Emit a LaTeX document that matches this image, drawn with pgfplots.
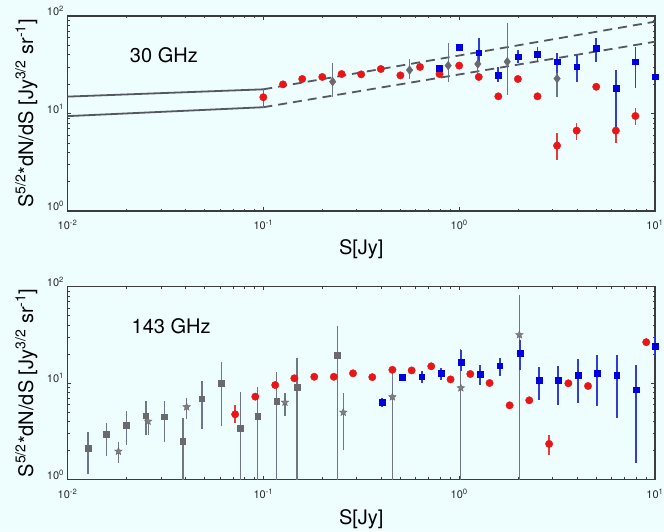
\documentclass[border=0pt]{standalone}
\usepackage{pgfplots}
\usepackage{pgfplotstable}
\pgfplotsset{compat=1.18}
\usetikzlibrary{plotmarks}
\usepackage{fontspec}
\setmainfont{TeX Gyre Heros}
\definecolor{bgc}{RGB}{238,253,254}
\definecolor{redc}{RGB}{232,22,22}
\definecolor{redbar}{RGB}{225,60,60}
\definecolor{bluec}{RGB}{0,0,225}
\definecolor{bluebar}{RGB}{50,60,205}
\definecolor{greyc}{RGB}{105,105,110}
\definecolor{greybar}{RGB}{110,118,135}
\definecolor{linec}{RGB}{85,88,96}
\definecolor{axc}{RGB}{60,60,60}

\pgfdeclareplotmark{fstar}{%
  \pgfpathmoveto{\pgfpointpolar{90}{\pgfplotmarksize}}%
  \pgfpathlineto{\pgfpointpolar{126}{0.42\pgfplotmarksize}}%
  \pgfpathlineto{\pgfpointpolar{162}{\pgfplotmarksize}}%
  \pgfpathlineto{\pgfpointpolar{198}{0.42\pgfplotmarksize}}%
  \pgfpathlineto{\pgfpointpolar{234}{\pgfplotmarksize}}%
  \pgfpathlineto{\pgfpointpolar{270}{0.42\pgfplotmarksize}}%
  \pgfpathlineto{\pgfpointpolar{306}{\pgfplotmarksize}}%
  \pgfpathlineto{\pgfpointpolar{342}{0.42\pgfplotmarksize}}%
  \pgfpathlineto{\pgfpointpolar{18}{\pgfplotmarksize}}%
  \pgfpathlineto{\pgfpointpolar{54}{0.42\pgfplotmarksize}}%
  \pgfpathclose
  \pgfusepathqfillstroke}

% ---------------- 30 GHz ----------------
\pgfplotstableread{
x y lo hi
0.100 14.7 11.6 17.7
0.126 19.9 19.9 19.9
0.158 22.6 22.6 22.6
0.200 23.7 23.7 23.7
0.251 25.4 25.4 25.4
0.316 25.2 25.2 25.2
0.398 28.6 28.6 28.6
0.501 24.6 24.6 24.6
0.631 30.0 30.0 30.0
0.794 25.4 25.4 25.4
1.000 31.0 31.0 31.0
1.259 23.7 23.7 23.7
1.585 15.0 15.0 15.0
1.995 22.6 22.6 22.6
2.512 15.0 15.0 15.0
3.162 4.68 3.33 6.26
3.981 6.67 5.35 7.93
5.012 18.8 18.8 18.8
6.310 6.67 4.94 8.58
7.943 9.43 7.62 11.3
}\redtop
\pgfplotstableread{
x y lo hi
0.794 29.1 27.0 31.0
1.000 48.1 48.1 48.1
1.259 42.1 32.7 59.0
1.585 24.8 21.2 30.3
1.995 38.3 32.7 44.8
2.512 40.8 34.0 48.5
3.162 34.0 25.9 41.4
3.981 30.2 21.2 39.8
5.012 46.6 34.0 59.0
6.310 18.1 6.77 28.0
7.943 34.0 18.1 48.5
10.00 23.9 23.9 23.9
}\bluetop
\pgfplotstableread{
x y lo hi
0.226 21.2 14.9 32.7
0.558 27.9 22.4 35.9
0.879 31.0 21.2 53.3
1.245 32.2 24.8 43.1
1.760 34.0 15.5 85.5
3.162 22.8 14.9 41.4
}\greytop

% ---------------- 143 GHz ----------------
\pgfplotstableread{
x y lo hi
0.0718 4.74 3.86 5.97
0.0910 7.22 7.22 7.22
0.115 9.53 9.53 9.53
0.144 11.2 11.2 11.2
0.182 11.6 11.6 11.6
0.229 11.6 11.6 11.6
0.287 12.6 12.6 12.6
0.360 11.5 11.5 11.5
0.456 13.7 13.7 13.7
0.572 13.5 13.5 13.5
0.720 14.9 14.9 14.9
0.904 10.9 10.9 10.9
1.140 12.4 12.4 12.4
1.430 10.0 10.0 10.0
1.810 5.87 5.87 5.87
2.280 6.62 6.62 6.62
2.880 2.34 1.81 2.92
3.610 9.93 9.93 9.93
4.550 9.31 9.31 9.31
9.020 26.5 26.5 26.5
}\redbot
\pgfplotstableread{
x y lo hi
0.405 6.31 5.65 7.00
0.510 11.5 11.5 11.5
0.643 11.6 10.0 13.2
0.807 12.6 10.8 14.3
1.020 16.4 13.2 22.1
1.280 12.4 9.61 15.5
1.610 15.1 11.7 18.1
2.040 20.4 13.7 28.1
2.560 10.7 6.62 14.6
3.210 10.7 5.97 15.1
4.040 12.1 6.21 17.7
5.070 12.7 5.74 19.6
6.380 12.0 4.34 19.6
8.030 8.53 1.49 15.5
10.00 24.1 18.9 30.4
}\bluebot
\pgfplotstableread{
x y lo hi
0.0127 2.13 1.15 3.09
0.0158 2.92 1.74 3.86
0.0200 3.68 2.27 5.09
0.0251 4.59 2.92 6.46
0.0312 4.48 2.43 6.56
0.0388 2.49 0.90 4.34
0.0485 6.88 3.34 10.4
0.0610 10.0 3.62 16.4
0.0763 3.40 0.90 8.00
0.0936 4.52 0.90 9.09
0.117 6.46 0.90 12.9
0.149 9.09 0.90 18.1
0.239 19.6 0.90 38.6
}\greysqbot
\pgfplotstableread{
x y lo hi
0.0182 1.96 1.49 2.43
0.0258 4.01 2.92 4.89
0.0406 5.65 4.24 7.00
0.129 6.31 4.52 7.88
0.256 4.97 2.04 7.88
0.456 7.17 0.90 13.7
1.020 8.88 0.90 22.5
2.030 31.6 0.90 82.0
}\greystbot

\pgfplotsset{
  every axis/.append style={
    axis line style={axc, line width=1.1pt},
    every tick/.style={axc, line width=0.7pt},
    major tick length=4pt, minor tick length=2.2pt,
    tick label style={font=\fontsize{11}{12}\selectfont, text=black!85},
    xticklabel style={yshift=-6pt},
    yticklabel style={yshift=5pt},
    label style={font=\fontsize{20}{24}\selectfont},
  },
}

\begin{document}
\begin{tikzpicture}
\fill[bgc] (0pt,0pt) rectangle (664pt,531pt);
\path[use as bounding box] (0pt,0pt) rectangle (664pt,531pt);

% ---------- top panel ----------
\begin{axis}[xmode=log, ymode=log,
    scale only axis, width=587.5pt, height=195pt,
    at={(67.5pt,320pt)}, anchor=south west,
    xmin=0.01, xmax=10, ymin=1, ymax=100,
    xtick={0.01,0.1,1,10},
    xticklabels={10\textsuperscript{-2},10\textsuperscript{-1},10\textsuperscript{0},10\textsuperscript{1}},
    ytick={1,10,100},
    yticklabels={10\textsuperscript{0},10\textsuperscript{1},10\textsuperscript{2}},
    xlabel={S[Jy]},
    ylabel={S\textsuperscript{5/2}*dN/dS [Jy\textsuperscript{3/2} sr\textsuperscript{-1}]},
    ylabel style={at={(axis description cs:-0.0587,0.5)}, anchor=base},
    xlabel style={at={(axis description cs:0.5,0)}, anchor=base, yshift=-43pt}]
\addplot[draw=linec, line width=1.8pt] coordinates {(0.01,14.9) (0.1,17.7)};
\addplot[draw=linec, line width=1.8pt] coordinates {(0.01,9.4) (0.1,11.6)};
\addplot[draw=linec, line width=1.8pt, dash pattern=on 9pt off 6pt] coordinates {(0.1,17.7) (10,87.5)};
\addplot[draw=linec, line width=1.8pt, dash pattern=on 9pt off 6pt] coordinates {(0.1,11.6) (10,54.5)};
\addplot[only marks, mark=diamond*, mark size=4.3pt, color=greyc,
  error bars/y dir=both, error bars/y explicit, error bars/error mark=none,
  error bars/error bar style={line width=1.3pt, color=greybar}]
  table[x=x, y=y, y error plus expr=\thisrow{hi}-\thisrow{y}, y error minus expr=\thisrow{y}-\thisrow{lo}] {\greytop};
\addplot[only marks, mark=*, mark size=3.7pt, color=redc,
  error bars/y dir=both, error bars/y explicit, error bars/error mark=none,
  error bars/error bar style={line width=1.6pt, color=redbar}]
  table[x=x, y=y, y error plus expr=\thisrow{hi}-\thisrow{y}, y error minus expr=\thisrow{y}-\thisrow{lo}] {\redtop};
\addplot[only marks, mark=square*, mark size=2.9pt, color=bluec,
  error bars/y dir=both, error bars/y explicit, error bars/error mark=none,
  error bars/error bar style={line width=1.8pt, color=bluebar}]
  table[x=x, y=y, y error plus expr=\thisrow{hi}-\thisrow{y}, y error minus expr=\thisrow{y}-\thisrow{lo}] {\bluetop};
\node[anchor=base west, font=\fontsize{20}{24}\selectfont] at (axis cs:0.02,33.2) {30 GHz};
\end{axis}

% ---------- bottom panel ----------
\begin{axis}[xmode=log, ymode=log,
    scale only axis, width=587.5pt, height=193pt,
    at={(67.5pt,51.5pt)}, anchor=south west,
    xmin=0.01, xmax=10, ymin=1, ymax=100,
    xtick={0.01,0.1,1,10},
    xticklabels={10\textsuperscript{-2},10\textsuperscript{-1},10\textsuperscript{0},10\textsuperscript{1}},
    ytick={1,10,100},
    yticklabels={10\textsuperscript{0},10\textsuperscript{1},10\textsuperscript{2}},
    xlabel={S[Jy]},
    ylabel={S\textsuperscript{5/2}*dN/dS [Jy\textsuperscript{3/2} sr\textsuperscript{-1}]},
    ylabel style={at={(axis description cs:-0.0587,0.5)}, anchor=base},
    xlabel style={at={(axis description cs:0.5,0)}, anchor=base, yshift=-45pt}]
\addplot[only marks, mark=square*, mark size=2.9pt, color=greyc,
  error bars/y dir=both, error bars/y explicit, error bars/error mark=none,
  error bars/error bar style={line width=1.5pt, color=greybar}]
  table[x=x, y=y, y error plus expr=\thisrow{hi}-\thisrow{y}, y error minus expr=\thisrow{y}-\thisrow{lo}] {\greysqbot};
\addplot[only marks, mark=fstar, mark size=4pt, color=greyc,
  mark options={fill=greyc!85, draw=black!60, line width=0.4pt},
  error bars/y dir=both, error bars/y explicit, error bars/error mark=none,
  error bars/error bar style={line width=1.1pt, color=greybar}]
  table[x=x, y=y, y error plus expr=\thisrow{hi}-\thisrow{y}, y error minus expr=\thisrow{y}-\thisrow{lo}] {\greystbot};
\addplot[only marks, mark=*, mark size=3.7pt, color=redc,
  error bars/y dir=both, error bars/y explicit, error bars/error mark=none,
  error bars/error bar style={line width=1.6pt, color=redbar}]
  table[x=x, y=y, y error plus expr=\thisrow{hi}-\thisrow{y}, y error minus expr=\thisrow{y}-\thisrow{lo}] {\redbot};
\addplot[only marks, mark=square*, mark size=2.9pt, color=bluec,
  error bars/y dir=both, error bars/y explicit, error bars/error mark=none,
  error bars/error bar style={line width=2pt, color=bluebar}]
  table[x=x, y=y, y error plus expr=\thisrow{hi}-\thisrow{y}, y error minus expr=\thisrow{y}-\thisrow{lo}] {\bluebot};
\node[anchor=base west, font=\fontsize{20}{24}\selectfont] at (axis cs:0.0204,32.7) {143 GHz};
\end{axis}
\end{tikzpicture}
\end{document}
